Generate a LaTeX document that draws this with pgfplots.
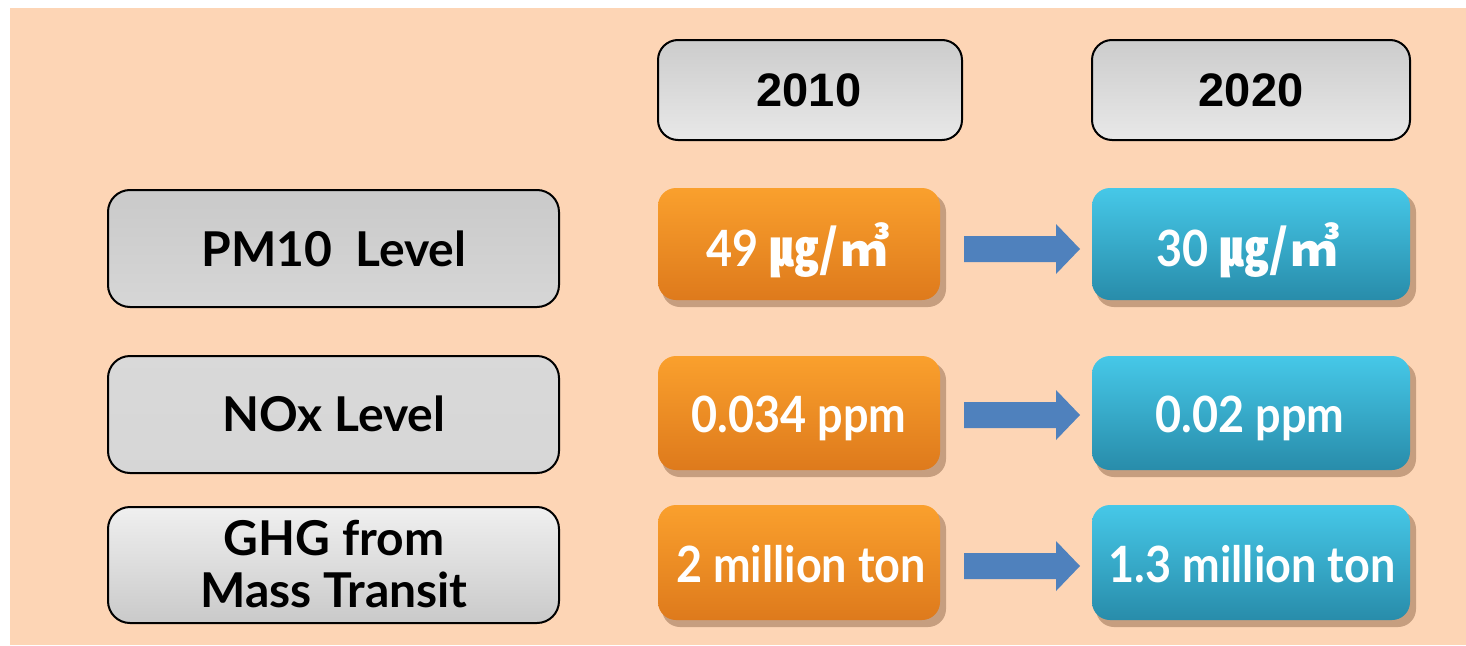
\documentclass[border=0pt]{standalone}
\usepackage{pgfplots}
\pgfplotsset{compat=1.18}
\usepackage{fontspec}
\setmainfont{Lato}
\newfontfamily\lblfont{Lato}
\newfontfamily\valfont{Lato}[FakeStretch=0.9]
\newfontfamily\yrfont{Liberation Sans}
\newfontfamily\cjk{Noto Sans CJK KR}
\definecolor{peach}{RGB}{253,213,181}
\definecolor{orgT}{RGB}{250,160,45}
\definecolor{orgM}{RGB}{246,146,32}
\definecolor{orgB}{RGB}{222,122,28}
\definecolor{bluT}{RGB}{70,200,232}
\definecolor{bluM}{RGB}{53,178,212}
\definecolor{bluB}{RGB}{40,140,170}
\definecolor{arrowblue}{RGB}{79,129,189}
\definecolor{shad}{RGB}{110,70,40}
\begin{document}
\begin{tikzpicture}
\begin{axis}[
  width=1466pt, height=645pt, scale only axis,
  xmin=0, xmax=1466, ymin=0, ymax=645, y dir=reverse,
  hide axis, clip=true,
  every node near coord/.append style={anchor=base, inner sep=0pt},
]
% page background
\addplot[fill=white, draw=none] coordinates {(0,0) (1466,0) (1466,645) (0,645)} --cycle;
\addplot[fill=peach, draw=none] coordinates {(10,8) (1466,8) (1466,645) (10,645)} --cycle;

% year boxes
\addplot[draw=black, line width=2pt, rounded corners=20pt, top color=gray!40, middle color=gray!12, bottom color=gray!18] coordinates {(658,40) (962,40) (962,140) (658,140)} --cycle;
\addplot[draw=black, line width=2pt, rounded corners=20pt, top color=gray!40, middle color=gray!12, bottom color=gray!18] coordinates {(1092,40) (1410,40) (1410,140) (1092,140)} --cycle;

% row label boxes
\addplot[draw=black, line width=2pt, rounded corners=22pt, top color=gray!42, middle color=gray!14, bottom color=gray!32] coordinates {(108,190) (559,190) (559,307) (108,307)} --cycle;
\addplot[draw=black, line width=2pt, rounded corners=22pt, top color=gray!30, middle color=gray!62, bottom color=gray!32] coordinates {(108,356) (559,356) (559,473) (108,473)} --cycle;
\addplot[draw=black, line width=2pt, rounded corners=22pt, top color=gray!12, middle color=gray!18, bottom color=gray!42] coordinates {(108,507) (559,507) (559,623) (108,623)} --cycle;

% shadows
\addplot[fill=shad, opacity=0.38, draw=none, rounded corners=18pt] coordinates {(662,194) (946,194) (946,307) (662,307)} --cycle;
\addplot[fill=shad, opacity=0.38, draw=none, rounded corners=18pt] coordinates {(662,362) (946,362) (946,477) (662,477)} --cycle;
\addplot[fill=shad, opacity=0.38, draw=none, rounded corners=18pt] coordinates {(662,511) (946,511) (946,627) (662,627)} --cycle;
\addplot[fill=shad, opacity=0.38, draw=none, rounded corners=18pt] coordinates {(1096,194) (1416,194) (1416,307) (1096,307)} --cycle;
\addplot[fill=shad, opacity=0.38, draw=none, rounded corners=18pt] coordinates {(1096,362) (1416,362) (1416,477) (1096,477)} --cycle;
\addplot[fill=shad, opacity=0.38, draw=none, rounded corners=18pt] coordinates {(1096,511) (1416,511) (1416,627) (1096,627)} --cycle;

% orange boxes (2010)
\addplot[draw=none, rounded corners=18pt, top color=orgT, middle color=orgM, bottom color=orgB] coordinates {(658,188) (940,188) (940,300) (658,300)} --cycle;
\addplot[draw=none, rounded corners=18pt, top color=orgT, middle color=orgM, bottom color=orgB] coordinates {(658,356) (940,356) (940,470) (658,470)} --cycle;
\addplot[draw=none, rounded corners=18pt, top color=orgT, middle color=orgM, bottom color=orgB] coordinates {(658,505) (940,505) (940,620) (658,620)} --cycle;

% blue boxes (2020)
\addplot[draw=none, rounded corners=18pt, top color=bluT, middle color=bluM, bottom color=bluB] coordinates {(1092,188) (1410,188) (1410,300) (1092,300)} --cycle;
\addplot[draw=none, rounded corners=18pt, top color=bluT, middle color=bluM, bottom color=bluB] coordinates {(1092,356) (1410,356) (1410,470) (1092,470)} --cycle;
\addplot[draw=none, rounded corners=18pt, top color=bluT, middle color=bluM, bottom color=bluB] coordinates {(1092,505) (1410,505) (1410,620) (1092,620)} --cycle;

% arrows
\addplot[fill=arrowblue, draw=none] coordinates {(964,236) (1056,236) (1056,224) (1080,249) (1056,274) (1056,262) (964,262)} --cycle;
\addplot[fill=arrowblue, draw=none] coordinates {(964,402) (1056,402) (1056,390) (1080,415) (1056,440) (1056,428) (964,428)} --cycle;
\addplot[fill=arrowblue, draw=none] coordinates {(964,553) (1056,553) (1056,541) (1080,566) (1056,591) (1056,579) (964,579)} --cycle;

% year labels
\addplot[draw=none, nodes near coords, point meta=explicit symbolic,
  every node near coord/.append style={font=\yrfont\bfseries\fontsize{47}{50}\selectfont, text=black}]
  coordinates {(809,106) [2010] (1251,106) [2020]};

% row labels
\addplot[draw=none, nodes near coords, point meta=explicit symbolic,
  every node near coord/.append style={font=\lblfont\bfseries\fontsize{48}{52}\selectfont, text=black}]
  coordinates {(334,266) [PM10~~Level] (334,431) [NOx Level] (334,555) [GHG from] (334,607) [Mass Transit]};

% values
\addplot[draw=none, nodes near coords, point meta=explicit symbolic,
  every node near coord/.append style={font=\valfont\bfseries\fontsize{50}{54}\selectfont, text=white}]
  coordinates {(798,266) [49 {\cjk\bfseries ㎍/㎥}] (799,432) [0.034 ppm] (801,582) [2 million ton]
               (1248,266) [30 {\cjk\bfseries ㎍/㎥}] (1250,432) [0.02 ppm] (1252,582) [1.3 million ton]};
\end{axis}
\end{tikzpicture}
\end{document}
